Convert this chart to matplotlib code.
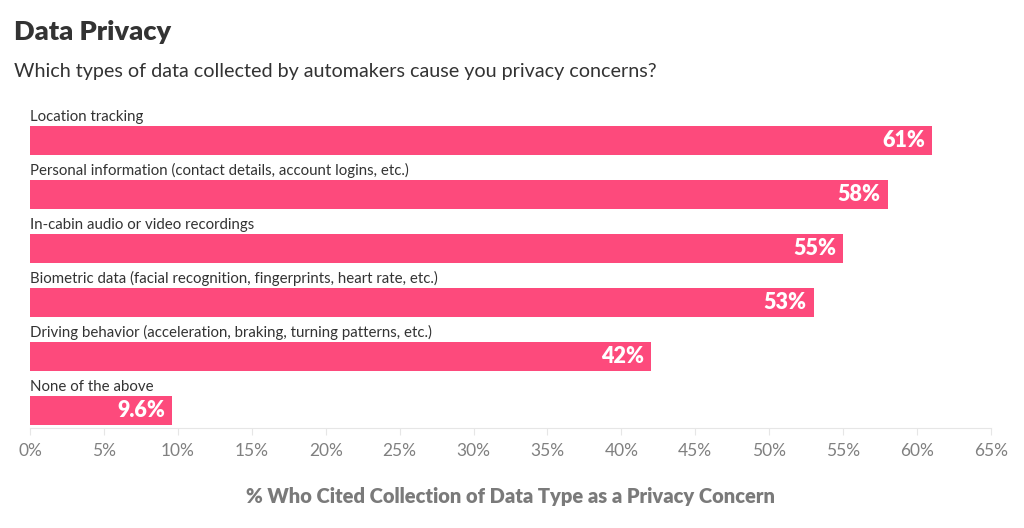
import matplotlib.pyplot as plt

plt.rcParams['font.family'] = ['Lato', 'DejaVu Sans']

categories = [
    'Location tracking',
    'Personal information (contact details, account logins, etc.)',
    'In-cabin audio or video recordings',
    'Biometric data (facial recognition, fingerprints, heart rate, etc.)',
    'Driving behavior (acceleration, braking, turning patterns, etc.)',
    'None of the above',
]
values = [61, 58, 55, 53, 42, 9.6]
value_labels = ['61%', '58%', '55%', '53%', '42%', '9.6%']
xticks = list(range(0, 70, 5))

bar_color = '#fd4a7c'
bar_h = 29 / 54

fig = plt.figure(figsize=(10.24, 5.28), dpi=100)
ax = fig.add_axes([30 / 1024, 1 - 428 / 528, 961 / 1024, 328 / 528])

ypos = list(range(len(categories)))
ax.barh(ypos, values, height=bar_h, color=bar_color, zorder=2)

for y, cat, v, lab in zip(ypos, categories, values, value_labels):
    ax.text(0, y - bar_h / 2 - 0.03, cat, ha='left', va='bottom',
            fontsize=10.8, color='#333333')
    ax.annotate(lab, (v, y), xytext=(-5, 0), textcoords='offset points',
                ha='right', va='center', fontsize=15.5, fontweight='heavy',
                color='white')

ax.set_xlim(0, 65)
ax.set_ylim(5.324, -0.75)
ax.set_xticks(xticks)
ax.set_xticklabels([f'{t}%' for t in xticks])
ax.set_yticks([])
ax.tick_params(axis='x', colors='#e6e6e6', labelcolor='#808080',
               labelsize=12.5, length=5, pad=6)
for s in ['top', 'right', 'left']:
    ax.spines[s].set_visible(False)
ax.spines['bottom'].set_color('#e6e6e6')

ax.set_xlabel('% Who Cited Collection of Data Type as a Privacy Concern',
              fontsize=14.5, fontweight='heavy', color='#7a7a7a', labelpad=20)

fig.text(14 / 1024, 1 - 32 / 528, 'Data Privacy', fontsize=19.5,
         fontweight='heavy', color='#333333', va='center')
fig.text(14 / 1024, 1 - 72 / 528,
         'Which types of data collected by automakers cause you privacy concerns?',
         fontsize=14.2, color='#333333', va='center')

fig.savefig('out.png', dpi=100)
